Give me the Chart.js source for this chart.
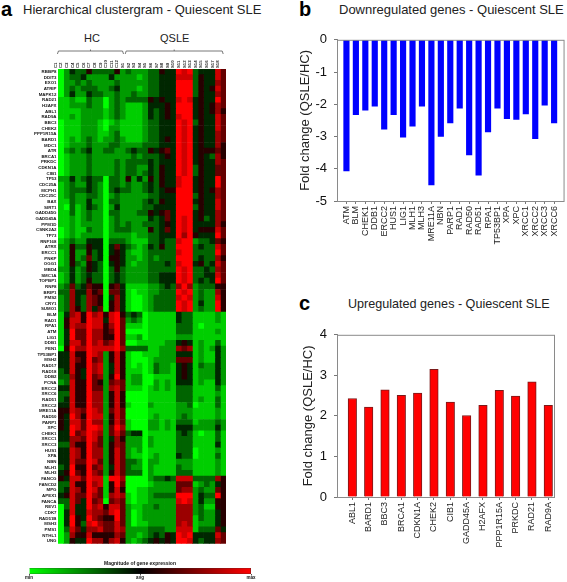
<!DOCTYPE html>
<html>
<head>
<meta charset="utf-8">
<script src="https://cdn.jsdelivr.net/npm/chart.js"></script>
<style>
  html, body { margin: 0; padding: 0; background: #fff; }
  body { position: relative; width: 567px; height: 582px; overflow: hidden; font-family: "Liberation Sans", Arial, sans-serif; color: #222; }
  canvas { position: absolute; }
  .txt { position: absolute; white-space: nowrap; line-height: 1; }
  .letter { font-weight: bold; font-size: 20px; color: #000; }
  .head { font-size: 13px; }
</style>
</head>
<body>
<div class="txt letter" style="left:1px;top:-1px">a</div>
<div class="txt head" style="left:23px;top:3px">Hierarchical clustergram - Quiescent SLE</div>
<div class="txt letter" style="left:299px;top:-1px">b</div>
<div class="txt head" style="left:339px;top:3px">Downregulated genes - Quiescent SLE</div>
<div class="txt letter" style="left:299px;top:293px">c</div>
<div class="txt head" style="left:348px;top:298px;font-size:12.6px">Upregulated genes - Quiescent SLE</div>
<div class="txt" style="left:84px;top:33px;font-size:11px">HC</div>
<div class="txt" style="left:160px;top:33px;font-size:11px">QSLE</div>

<canvas id="heatChart" width="232" height="518" style="left:0;top:30px"></canvas>
<canvas id="scaleChart" width="260" height="27" style="left:10px;top:555px"></canvas>
<canvas id="downChart" width="287" height="255" style="left:280px;top:25px"></canvas>
<canvas id="upChart" width="287" height="262" style="left:280px;top:320px"></canvas>

<script>
// Panel b - downregulated genes
const downGenes = ['ATM', 'BLM', 'CHEK1', 'DDB1', 'ERCC2', 'HUS1', 'LIG1', 'MLH1', 'MLH3', 'MRE11A', 'NBN', 'PARP1',
    'RAD1', 'RAD50', 'RAD51', 'RPA1', 'TP53BP1', 'XPA', 'XPC', 'XRCC1', 'XRCC2', 'XRCC3', 'XRCC6'];
const downValues = [-4.07, -2.32, -2.18, -2.06, -2.77, -2.32, -3.02, -2.68, -2.06, -4.5, -3.0, -2.58,
    -2.12, -3.57, -4.2, -2.86, -2.12, -2.45, -2.47, -2.3, -3.07, -2.03, -2.58];

// Panel c - upregulated genes
const upGenes = ['ABL1', 'BARD1', 'BBC3', 'BRCA1', 'CDKN1A', 'CHEK2', 'CIB1', 'GADD45A', 'H2AFX', 'PPP1R15A', 'PRKDC', 'RAD21', 'RAD9A'];
const upValues = [2.43, 2.22, 2.64, 2.51, 2.56, 3.15, 2.34, 2.01, 2.26, 2.63, 2.49, 2.84, 2.26];

// Panel a - clustergram rows, top to bottom
const heatGenes = ['RBBP8', 'DDIT3', 'EXO1', 'ATRIP', 'MAPK12', 'RAD21', 'H2AFX', 'ABL1', 'RAD9A', 'BBC3', 'CHEK2', 'PPP1R15A',
    'BARD1', 'MDC1', 'ATR', 'BRCA1', 'PRKDC', 'CDKN1A', 'CIB1', 'TP53', 'CDC25A', 'MCPH1', 'CDC25C', 'BAX', 'SIRT1', 'GADD45G',
    'GADD45A', 'PPM1D', 'CSNK2A2', 'TP73', 'RNF168', 'ATRX', 'ERCC1', 'PNKP', 'OGG1', 'MBD4', 'SMC1A', 'TOPBP1', 'RNF8', 'BRIP1',
    'PMS2', 'CRY1', 'SUMO1', 'BLM', 'RAD1', 'RPA1', 'ATM', 'LIG1', 'DDB1', 'FEN1', 'TP53BP1', 'MSH2', 'RAD17', 'RAD18', 'DDB2',
    'PCNA', 'ERCC2', 'XRCC6', 'RAD51', 'XRCC2', 'MRE11A', 'RAD50', 'PARP1', 'XPC', 'CHEK1', 'XRCC1', 'XRCC3', 'HUS1', 'XPA', 'NBN',
    'MLH1', 'MLH3', 'FANCG', 'FANCD2', 'MPG', 'APEX1', 'FANCA', 'REV1', 'CDK7', 'RAD51B', 'MSH3', 'PMS1', 'NTHL1', 'UNG'];
const heatSamples = ['C1', 'C2', 'C3', 'C4', 'C5', 'C6', 'C7', 'C8', 'C9', 'C10', 'C11', 'C12',
    'S1', 'S2', 'S3', 'S4', 'S5', 'S6', 'S7', 'S8', 'S9', 'S10', 'S11', 'S12', 'S13', 'S14', 'S15', 'S16', 'S17', 'S18'];

// One digit per sample: 0 = min (green), 4-5 = avg (black), 9 = max (red)
const heatRows = [
    '024335333352' + '322233544' + '989344486',
    '023342222422' + '221233444' + '888354486',
    '022323222232' + '222233444' + '999354476',
    '023233322342' + '221233444' + '999354586',
    '024224332232' + '232233444' + '999354476',
    '112113220232' + '333354544' + '898454496',
    '112223220232' + '111244454' + '999454576',
    '111122221232' + '111243454' + '999454575',
    '112122221232' + '111243454' + '899454486',
    '011122210121' + '111233444' + '989354486',
    '011122210221' + '111233444' + '989454486',
    '011122211231' + '111233444' + '989454476',
    '012123212232' + '111233454' + '989454476',
    '012223222332' + '222333444' + '989454475',
    '023234223322' + '343354564' + '989455565',
    '012223222222' + '232333454' + '989454375',
    '012223222232' + '333343444' + '989454476',
    '012223222232' + '332243544' + '989354466',
    '012223222232' + '332343544' + '989354466',
    '224234330332' + '524253544' + '899454496',
    '123224320332' + '322343544' + '899454496',
    '123334320343' + '322343455' + '999454576',
    '123223320232' + '222233444' + '999354476',
    '113224220332' + '222343544' + '999454486',
    '103124320242' + '222334444' + '999354486',
    '113123220332' + '223354564' + '999454476',
    '112123220232' + '222243464' + '989453476',
    '112122220232' + '322333454' + '989444475',
    '012113220233' + '322253464' + '989455586',
    '012122220222' + '212233444' + '979544496',
    '123224440333' + '211133433' + '899233465',
    '225335440464' + '321243533' + '999343386',
    '125225340454' + '211233333' + '899333396',
    '125236340554' + '221232333' + '999343375',
    '125325430454' + '212233343' + '899453486',
    '224235430353' + '222233333' + '989334376',
    '124234330343' + '222233444' + '989334486',
    '124235330343' + '222233444' + '989343496',
    '236346550564' + '111122343' + '797233355',
    '337447560664' + '101122333' + '989232275',
    '237437650474' + '100123333' + '898232285',
    '237437650574' + '100123333' + '989242295',
    '237537460574' + '100123333' + '989232295',
    '147859785895' + '343011111' + '433111121',
    '158859884896' + '232011111' + '433111121',
    '158779885796' + '111011111' + '333101111',
    '149669775696' + '000011111' + '333111121',
    '149669775596' + '112011111' + '222111111',
    '148869786796' + '001111122' + '454121131',
    '059779888897' + '333311222' + '767121242',
    '448559872585' + '100111222' + '444121142',
    '448659672585' + '100012222' + '666121142',
    '448559782485' + '101013221' + '454132242',
    '348549782485' + '111013221' + '454122242',
    '337549672595' + '122001111' + '454122242',
    '238559652676' + '122002121' + '444121142',
    '448559662786' + '111012121' + '333111131',
    '338559772585' + '000011111' + '333111121',
    '348559772585' + '000011111' + '333121131',
    '448559772585' + '100021111' + '223011131',
    '558769872686' + '000011111' + '222111121',
    '549759882586' + '000012111' + '232111121',
    '548869772586' + '100022121' + '333122232',
    '549869982697' + '100022121' + '444222242',
    '449679872686' + '344011111' + '343101131',
    '447769862475' + '222021111' + '333111131',
    '337559762576' + '222021111' + '333111141',
    '448759772586' + '212011111' + '333011121',
    '448759772586' + '211012111' + '433011131',
    '448669862586' + '332022111' + '222111121',
    '349559672486' + '322021111' + '322111121',
    '459659762586' + '333021111' + '333111121',
    '548869881997' + '000023343' + '888333375',
    '338559781596' + '000012222' + '666123245',
    '348759861585' + '001122222' + '677232265',
    '458669761787' + '101123333' + '999243395',
    '338649670676' + '101122222' + '898242255',
    '038449785886' + '211223222' + '777231155',
    '048448776896' + '201222222' + '777232245',
    '049549765596' + '201222222' + '777132245',
    '049538976686' + '201122222' + '787122245',
    '038647786687' + '222233322' + '888133364',
    '027558555576' + '221234354' + '989444486',
    '025449775785' + '212345454' + '998434476'
];

// Colour scale tick labels
const scaleTicks = ['min', 'avg', 'max'];

Chart.defaults.font.family = '"Liberation Sans", Arial, sans-serif';
Chart.defaults.animation = false;
Chart.defaults.responsive = false;
Chart.defaults.plugins.legend.display = false;
Chart.defaults.plugins.tooltip.enabled = false;

const GREEN_RED_MID = 4.5;

function heatColor(digit) {
    const d = Number(digit) - GREEN_RED_MID;
    const level = Math.round(Math.pow(Math.abs(d) / GREEN_RED_MID, 0.85) * 255);
    return d < 0 ? `rgb(0,${level},0)` : `rgb(${level},0,0)`;
}

// Gray box around the plot area
const framePlugin = {
    id: 'frame',
    afterDraw(chart) {
        const a = chart.chartArea;
        const ctx = chart.ctx;
        ctx.save();
        ctx.strokeStyle = '#8a8a8a';
        ctx.lineWidth = 1;
        ctx.strokeRect(a.left + 0.5, a.top + 0.5, a.right - a.left, a.bottom - a.top);
        ctx.restore();
    }
};

// HC and QSLE brackets above the clustergram
const bracketPlugin = {
    id: 'brackets',
    afterDraw(chart) {
        const x = chart.scales.x;
        const ctx = chart.ctx;
        const y = 21;
        ctx.save();
        ctx.strokeStyle = '#555';
        ctx.lineWidth = 0.8;
        [[-0.1, 11.7], [12, 29.5]].forEach(([from, to]) => {
            const x0 = x.getPixelForValue(from);
            const x1 = x.getPixelForValue(to);
            const mid = (x0 + x1) / 2;
            ctx.beginPath();
            ctx.moveTo(x0, y + 3);
            ctx.lineTo(x0 + 1, y);
            ctx.lineTo(x1 - 1, y);
            ctx.lineTo(x1, y + 3);
            ctx.moveTo(mid, y);
            ctx.lineTo(mid, y - 1.5);
            ctx.stroke();
        });
        ctx.restore();
    }
};

function barChart(canvasId, genes, values, color, edge, thickness, xMin, xMax, yMin, yMax, padding, xHeight, titleGap) {
    new Chart(document.getElementById(canvasId), {
        type: 'bar',
        data: {
            datasets: [{
                data: values.map((v, i) => ({ x: i, y: v })),
                backgroundColor: color,
                borderColor: edge,
                borderWidth: edge ? 1 : 0,
                barThickness: thickness
            }]
        },
        options: {
            layout: { padding: padding },
            scales: {
                x: {
                    type: 'linear',
                    offset: false,
                    min: xMin,
                    max: xMax,
                    afterBuildTicks: axis => { axis.ticks = genes.map((g, i) => ({ value: i })); },
                    afterFit: axis => { axis.height = xHeight; },
                    grid: { display: true, offset: false, drawOnChartArea: false, tickLength: 3, tickColor: '#777' },
                    border: { color: '#8a8a8a' },
                    ticks: {
                        autoSkip: false,
                        minRotation: 90,
                        maxRotation: 90,
                        padding: 2,
                        color: '#222',
                        font: { size: 9 },
                        callback: value => genes[value]
                    }
                },
                y: {
                    min: yMin,
                    max: yMax,
                    afterFit: axis => { axis.width = 57; },
                    grid: { display: true, drawOnChartArea: false, tickLength: 3, tickColor: '#777' },
                    border: { color: '#8a8a8a' },
                    ticks: { stepSize: 1, padding: 7, color: '#111', font: { size: 13 } },
                    title: {
                        display: true,
                        text: 'Fold change (QSLE/HC)',
                        color: '#222',
                        font: { size: 13 },
                        padding: { top: titleGap, bottom: 0 }
                    }
                }
            }
        },
        plugins: [framePlugin]
    });
}

barChart('downChart', downGenes, downValues, '#0000ff', null, 5.5, -1, 23, -5, 0, { top: 12, right: 2 }, 79, 18);
barChart('upChart', upGenes, upValues, '#ff0000', '#7a1a1a', 8.5, -0.94, 12.35, 0, 4, { top: 13, right: 13 }, 85, 21);

// Clustergram: one stacked horizontal bar per gene, one segment per sample
new Chart(document.getElementById('heatChart'), {
    type: 'bar',
    data: {
        labels: heatGenes,
        datasets: heatSamples.map((sample, col) => ({
            label: sample,
            data: heatRows.map(() => 1),
            backgroundColor: heatRows.map(row => heatColor(row[col])),
            borderWidth: 0,
            barPercentage: 1,
            categoryPercentage: 1
        }))
    },
    options: {
        indexAxis: 'y',
        layout: { padding: { right: 6 } },
        scales: {
            x: { stacked: true, min: 0, max: heatSamples.length, display: false },
            top: {
                axis: 'x',
                type: 'category',
                position: 'top',
                labels: heatSamples,
                offset: true,
                afterFit: axis => { axis.height = 39; },
                grid: { display: false, drawTicks: false },
                border: { display: false },
                ticks: {
                    autoSkip: false,
                    minRotation: 90,
                    maxRotation: 90,
                    padding: 1,
                    color: '#222',
                    font: { size: 4.3, weight: 'bold' }
                }
            },
            y: {
                stacked: true,
                afterFit: axis => { axis.width = 58; },
                grid: { display: false, drawTicks: false },
                border: { display: false },
                ticks: {
                    autoSkip: false,
                    padding: 1.5,
                    color: '#111',
                    font: { size: 4.4, weight: 'bold' }
                }
            }
        }
    },
    plugins: [bracketPlugin]
});

// Colour scale under the clustergram
new Chart(document.getElementById('scaleChart'), {
    type: 'bar',
    data: {
        labels: ['Magnitude of gene expression'],
        datasets: [{
            data: [2],
            barPercentage: 1,
            categoryPercentage: 1,
            borderWidth: 0.7,
            borderColor: '#333',
            backgroundColor(context) {
                const area = context.chart.chartArea;
                if (!area) return '#000';
                const g = context.chart.ctx.createLinearGradient(area.left, 0, area.right, 0);
                g.addColorStop(0, '#00ff00');
                g.addColorStop(0.5, '#000000');
                g.addColorStop(1, '#ff0000');
                return g;
            }
        }]
    },
    options: {
        indexAxis: 'y',
        layout: { padding: { left: 19, right: 19 } },
        plugins: {
            title: {
                display: true,
                text: 'Magnitude of gene expression',
                color: '#111',
                padding: { top: 6, bottom: 1 },
                font: { size: 5, weight: 'bold' }
            }
        },
        scales: {
            x: {
                min: 0,
                max: 2,
                afterBuildTicks: axis => { axis.ticks = scaleTicks.map((t, i) => ({ value: i })); },
                afterFit: axis => { axis.height = 8; },
                grid: { display: true, drawOnChartArea: false, tickLength: 1.5, tickColor: '#555' },
                border: { display: false },
                ticks: {
                    autoSkip: false,
                    maxRotation: 0,
                    padding: 0,
                    color: '#111',
                    font: { size: 4.5, weight: 'bold' },
                    callback: value => scaleTicks[value]
                }
            },
            y: { display: false }
        }
    }
});
</script>
</body>
</html>
